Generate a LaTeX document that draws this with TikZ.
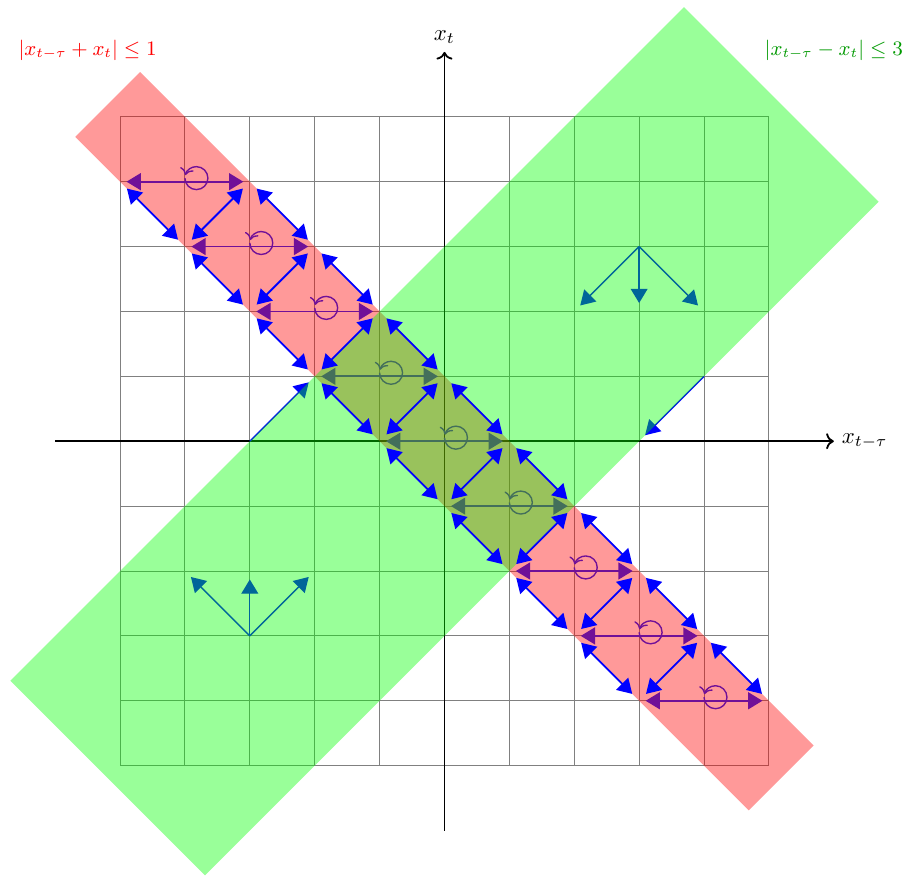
\documentclass[tikz,border=0pt]{standalone}
\usetikzlibrary{arrows.meta}
\definecolor{hop}{RGB}{112,16,152}
\begin{document}
\begin{tikzpicture}[
  tip/.tip={Triangle[length=2.2mm,width=2.6mm]},
  gridline/.style={gray, thin},
  axisline/.style={thick, ->},
  hoparrow/.style={hop, thick, tip-tip, shorten <=1mm, shorten >=1mm},
  looparrow/.style={hop, line width=0.6pt, ->},
  diagarrow/.style={blue, thick, tip-tip, shorten <=1.5mm, shorten >=1.5mm},
  conearrow/.style={blue, semithick, -tip, shorten >=1.3mm},
  redband/.style={fill=red, opacity=0.4},
  greenband/.style={fill=green, opacity=0.4},
  bandlabel/.style={font=\small}
]
\useasboundingbox (-6.85,-6.73) rectangle (7.19,6.80);

% grid and axes
\draw[gridline] (-5,-5) grid (5,5);
\coordinate (xs) at (-6,0);
\coordinate (xe) at (6,0);
\coordinate (ys) at (0,-6);
\coordinate (ye) at (0,6);
\draw[axisline] (xs) -- (xe);
\draw[axisline] (ys) -- (ye);
\node[right] (xlab) at (xe) {$x_{t-\tau}$};
\node[above] (ylab) at (ye) {$x_t$};

% red band
\path[redband] (-5.69,4.69) -- (-4.69,5.69) -- (5.69,-4.69) -- (4.69,-5.69) -- cycle;

% lattice points
\foreach \k in {-4,...,4}{
  \coordinate (L\k) at (\k-1,-\k);
  \coordinate (R\k) at (\k+1,-\k);
  \coordinate (C\k) at (\k,-\k);
}

% horizontal hops and self loops
\foreach \k in {-4,...,4}{
  \draw[hoparrow] (L\k) -- (R\k);
  \draw[looparrow] (C\k) ++(0,0.055) arc[start angle=180, end angle=525, radius=0.177];
}

% cone arrows
\coordinate (cu) at (3,3);
\coordinate (cu1) at (2,2);
\coordinate (cu2) at (3,2);
\coordinate (cu3) at (4,2);
\coordinate (cd) at (-3,-3);
\coordinate (cd1) at (-4,-2);
\coordinate (cd2) at (-3,-2);
\coordinate (cd3) at (-2,-2);
\foreach \t in {1,2,3}{
  \draw[conearrow] (cu) -- (cu\t);
  \draw[conearrow] (cd) -- (cd\t);
}

% boundary arrows
\coordinate (ba) at (-3,0);
\coordinate (bb) at (4,1);
\coordinate (bc) at (3,0);
\draw[conearrow] (ba) -- (L-1);
\draw[conearrow] (bb) -- (bc);

% green band
\path[greenband] (3.69,6.69) -- (6.69,3.69) -- (-3.69,-6.69) -- (-6.69,-3.69) -- cycle;

% diagonal hops
\foreach \k [evaluate=\k as \n using int(\k+1)] in {-4,...,3}{
  \draw[diagarrow] (L\k) -- (L\n);
  \draw[diagarrow] (R\k) -- (R\n);
  \draw[diagarrow] (L\n) -- (R\k);
}

% labels
\node[bandlabel, red] (lab1) at (-5.5,6.03) {$|x_{t-\tau}+x_t|\le 1$};
\node[bandlabel, green!60!black] (lab2) at (6.0,6.03) {$|x_{t-\tau}-x_t|\le 3$};
\end{tikzpicture}
\end{document}
